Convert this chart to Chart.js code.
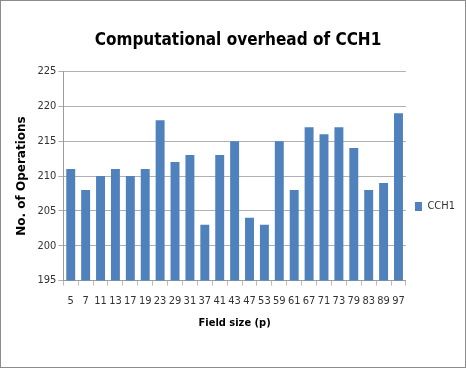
<!DOCTYPE html>
<html>
<head>
<meta charset="utf-8">
<script src="https://cdn.jsdelivr.net/npm/chart.js@4"></script>
<style>
  html, body { margin: 0; padding: 0; background: #fff; }
  #wrap {
    position: absolute; left: 0; top: 0;
    width: 464px; height: 366px;
    border: 1px solid #8c8c8c;
    background: #fff;
  }
</style>
</head>
<body>
<div id="wrap"><canvas id="chart" width="464" height="366"></canvas></div>
<script>
const FIELD_SIZES = ['5', '7', '11', '13', '17', '19', '23', '29', '31', '37', '41', '43',
                     '47', '53', '59', '61', '67', '71', '73', '79', '83', '89', '97'];
const CCH1_OPS    = [211, 208, 210, 211, 210, 211, 218, 212, 213, 203, 213, 215,
                     204, 203, 215, 208, 217, 216, 217, 214, 208, 209, 219];
const Y_MIN = 195;
const Y_MAX = 225;
const Y_STEP = 5;

// condensed look, close to the Calibri of the original
const NARROW = "'DejaVu Sans', sans-serif";

const chart = new Chart(
  document.getElementById('chart').getContext('2d'), {
    type: 'bar',
    data: {
      labels: FIELD_SIZES,
      datasets: [{
        label: 'CCH1',
        data: CCH1_OPS,
        backgroundColor: '#4f81bd',
        borderWidth: 0,
        barPercentage: 0.6,
        categoryPercentage: 1.0,
      }]
    },
    options: {
      responsive: false,
      animation: false,
      devicePixelRatio: 1,
      layout: { padding: { left: 10, right: 0, top: 20, bottom: 37 } },
      plugins: {
        title: {
          display: true,
          text: 'Computational overhead of CCH1',
          color: '#000',
          font: { family: NARROW, size: 17, weight: 'bold condensed' },
          padding: { top: 9, bottom: 21 }
        },
        legend: {
          position: 'right',
          // empty title only pushes the entry down, as in the original
          title: { display: true, text: ' ', font: { size: 10 }, padding: { top: 0, bottom: 50 } },
          labels: {
            color: '#333',
            font: { family: NARROW, size: 11, weight: 'normal condensed' },
            boxWidth: 7,
            boxHeight: 9,
            padding: 9
          }
        },
        tooltip: { enabled: false }
      },
      scales: {
        x: {
          grid: {
            display: true,
            drawOnChartArea: false,
            offset: true,
            color: '#bcbcbc',
            tickLength: 5
          },
          border: { color: '#9c9c9c' },
          ticks: {
            color: '#333',
            autoSkip: false,
            maxRotation: 0,
            padding: 9,
            font: { family: NARROW, size: 11, weight: 'normal condensed' }
          },
          title: {
            display: true,
            text: 'Field size (p)',
            color: '#000',
            font: { family: NARROW, size: 11, weight: 'bold condensed' },
            padding: { top: 0, bottom: 0 }
          }
        },
        y: {
          min: Y_MIN,
          max: Y_MAX,
          grid: { color: '#b0b0b0', tickLength: 5 },
          border: { color: '#9c9c9c' },
          ticks: {
            stepSize: Y_STEP,
            color: '#333',
            padding: 2,
            font: { family: NARROW, size: 11, weight: 'normal condensed' }
          },
          title: {
            display: true,
            text: 'No. of Operations',
            color: '#000',
            font: { family: "'DejaVu Sans', sans-serif", size: 12, weight: 'bold' },
            padding: { bottom: 6 }
          }
        }
      }
    }
  }
);
</script>
</body>
</html>
